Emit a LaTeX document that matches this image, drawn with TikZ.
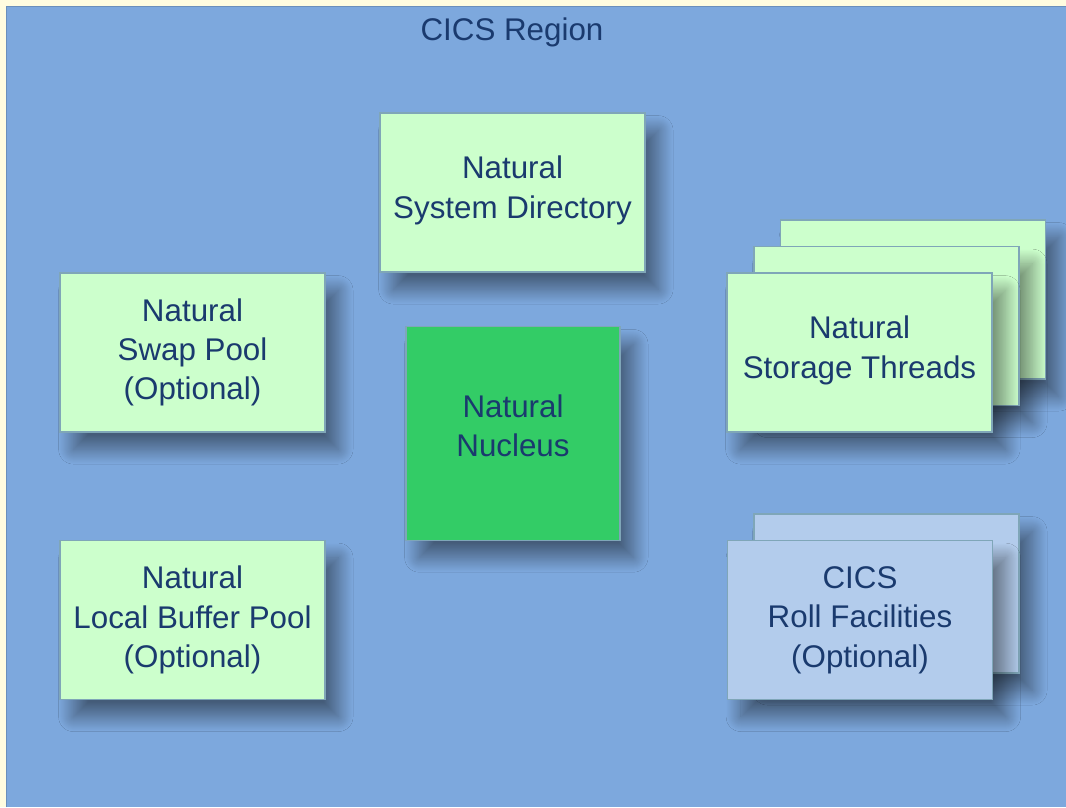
\documentclass[tikz,border=0pt]{standalone}
\usepackage{fontspec}
\setmainfont{Liberation Sans}
\usetikzlibrary{shadows.blur}
\definecolor{bgyellow}{HTML}{FFFCE0}
\definecolor{regionblue}{HTML}{7DA8DD}
\definecolor{lightgreen}{HTML}{CCFFCC}
\definecolor{nucgreen}{HTML}{33CC66}
\definecolor{rollblue}{HTML}{B3CCEC}
\definecolor{txtnavy}{HTML}{1A3A6E}
\definecolor{boxedge}{HTML}{7FA6B8}
\definecolor{shadowcol}{HTML}{50406A}
\tikzset{
  box/.style={draw=boxedge, line width=0.8pt, align=center, text=txtnavy,
    font=\fontsize{23.5}{29.5}\selectfont,
    minimum width=198.75pt, minimum height=119.25pt, inner sep=0pt,
    blur shadow={shadow xshift=10pt, shadow yshift=-13pt, shadow blur radius=11pt,
      shadow opacity=45, shadow blur steps=30, shadow blur extra rounding=0pt}},
  greenbox/.style={box, fill=lightgreen},
  rollbox/.style={box, fill=rollblue},
  nucbox/.style={box, fill=nucgreen, minimum width=160.5pt, minimum height=160pt},
  titletext/.style={text=txtnavy, font=\fontsize{23.5}{29.5}\selectfont}
}
\tikzset{every shadow/.style={fill=shadowcol}}
\begin{document}
\begin{tikzpicture}[x=0.75pt,y=-0.75pt]
\useasboundingbox (0,0) rectangle (1066,807);
\fill[bgyellow] (0,0) rectangle (1066,807);
\fill[regionblue] (6,6) rectangle (1066,807);
\draw[regionblue!85!black, line width=1pt] (6.5,807) -- (6.5,6.5) -- (1066,6.5);
\node[titletext] (title) at (512,32) {CICS Region};

\node[greenbox] (sysdir) at (512.5,192.5) {Natural\\System Directory\\[-21.5pt]};
\node[greenbox] (swap) at (192.5,352.5) {Natural\\Swap Pool\\(Optional)};
\node[nucbox] (nucleus) at (513,433.5) {Natural\\Nucleus\\[-17.5pt]};
\node[greenbox] (localbuf) at (192.5,620) {Natural\\Local Buffer Pool\\(Optional)};

\node[greenbox] (thread3) at (913,299.5) {};
\node[greenbox] (thread2) at (886.5,326) {};
\node[greenbox] (thread1) at (859.5,352.5) {Natural\\Storage Threads\\[-21.5pt]};

\node[rollbox] (roll2) at (886.5,593.5) {};
\node[rollbox] (roll1) at (860,620) {CICS\\Roll Facilities\\(Optional)};
\end{tikzpicture}
\end{document}
